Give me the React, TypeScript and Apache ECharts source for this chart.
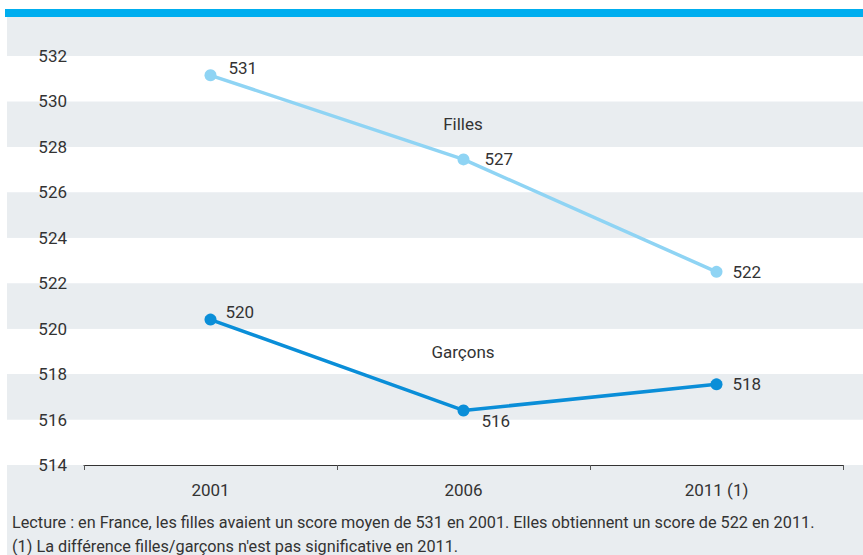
import React, { useEffect, useRef } from "react";
import * as echarts from "echarts";

const categories = ["2001", "2006", "2011 (1)"];
const fillesValues = [531.15, 527.45, 522.5];
const garconsValues = [520.4, 516.4, 517.55];
const fillesLabels = ["531", "527", "522"];
const garconsLabels = ["520", "516", "518"];
const yMin = 514;
const yMax = 532;
const yStep = 2;
const seriesNames = ["Filles", "Garçons"];
const footerLines = [
  "Lecture : en France, les filles avaient un score moyen de 531 en 2001. Elles obtiennent un score de 522 en 2011.",
  "(1) La différence filles/garçons n'est pas significative en 2011.",
];

const FONT = "Roboto, sans-serif";
const TEXT = "#333333";
const GRAY = "#e9edf0";

function measure(text: string, font: string): number {
  const c = document.createElement("canvas").getContext("2d");
  if (!c) return 0;
  c.font = font;
  return c.measureText(text).width;
}

export default function App() {
  const ref = useRef<HTMLDivElement>(null);
  useEffect(() => {
    if (!ref.current) return;
    const chart = echarts.init(ref.current, undefined, { renderer: "svg" });
    const fillesOffsets = [[4, -7], [7, 0], [2, 0]];
    const garconsOffsets = [[1, -8], [4, 11], [2, 0]];
    const footerFont = `17px ${FONT}`;
    const w = measure(footerLines[0], footerFont);
    const footerScale = w > 0 ? 803 / w : 1;
    chart.setOption({
      animation: false,
      textStyle: { fontFamily: FONT },
      grid: [
        { left: 84, right: 20, top: 56, bottom: 90 },
        { left: 7, right: 0, top: 56, bottom: 90 },
      ],
      xAxis: [
        {
          type: "category",
          gridIndex: 0,
          data: categories,
          boundaryGap: true,
          axisLine: { show: true, lineStyle: { color: "#333", width: 1.2 } },
          axisTick: { show: true, interval: 0, inside: false, length: 5, lineStyle: { color: "#555" } },
          axisLabel: { color: TEXT, fontSize: 17, margin: 16, fontFamily: FONT },
          splitLine: { show: false },
          z: 3,
        },
        {
          type: "value",
          gridIndex: 1,
          show: false,
          min: 0,
          max: 1,
        },
      ],
      yAxis: [
        {
          type: "value",
          gridIndex: 0,
          min: yMin,
          max: yMax,
          interval: yStep,
          axisLine: { show: false },
          axisTick: { show: false },
          splitLine: { show: false },
          axisLabel: { color: TEXT, fontSize: 17, margin: 17, fontFamily: FONT },
        },
        {
          type: "value",
          gridIndex: 1,
          min: yMin,
          max: yMax,
          interval: yStep,
          axisLine: { show: false },
          axisTick: { show: false },
          axisLabel: { show: false },
          splitLine: { show: false },
          splitArea: { show: true, areaStyle: { color: ["#ffffff", GRAY] } },
        },
      ],
      graphic: [
        { type: "rect", z: -10, shape: { x: 7, y: 17, width: 856, height: 538 }, style: { fill: GRAY } },
        { type: "rect", z: -10, shape: { x: 5, y: 9, width: 858, height: 8 }, style: { fill: "#00aeef" } },
        {
          type: "text", x: 463, y: 124, z: 20,
          style: { text: seriesNames[0], fill: TEXT, font: `17px ${FONT}`, align: "center", verticalAlign: "middle" },
        },
        {
          type: "text", x: 463, y: 352, z: 20,
          style: { text: seriesNames[1], fill: TEXT, font: `17px ${FONT}`, align: "center", verticalAlign: "middle" },
        },
        {
          type: "text", x: 12, y: 522, z: 20, scaleX: footerScale,
          style: { text: footerLines[0], fill: TEXT, font: footerFont, align: "left", verticalAlign: "middle" },
        },
        {
          type: "text", x: 12, y: 546, z: 20, scaleX: footerScale,
          style: { text: footerLines[1], fill: TEXT, font: footerFont, align: "left", verticalAlign: "middle" },
        },
      ],
      series: [
        {
          name: seriesNames[0],
          type: "line",
          xAxisIndex: 0,
          yAxisIndex: 0,
          data: fillesValues.map((v, i) => ({
            value: v,
            label: { offset: fillesOffsets[i], formatter: fillesLabels[i] },
          })),
          symbol: "circle",
          symbolSize: 12,
          lineStyle: { color: "#8fd4f4", width: 3.5 },
          itemStyle: { color: "#8fd4f4" },
          label: { show: true, position: "right", distance: 8, color: TEXT, fontSize: 17, fontFamily: FONT },
          z: 5,
        },
        {
          name: seriesNames[1],
          type: "line",
          xAxisIndex: 0,
          yAxisIndex: 0,
          data: garconsValues.map((v, i) => ({
            value: v,
            label: { offset: garconsOffsets[i], formatter: garconsLabels[i] },
          })),
          symbol: "circle",
          symbolSize: 12,
          lineStyle: { color: "#0a8ed8", width: 3.5 },
          itemStyle: { color: "#0a8ed8" },
          label: { show: true, position: "right", distance: 8, color: TEXT, fontSize: 17, fontFamily: FONT },
          z: 5,
        },
      ],
    });
    return () => chart.dispose();
  }, []);
  return (
    <div
      ref={ref}
      style={{ position: "absolute", left: 0, top: 0, width: 863, height: 555 }}
    />
  );
}
